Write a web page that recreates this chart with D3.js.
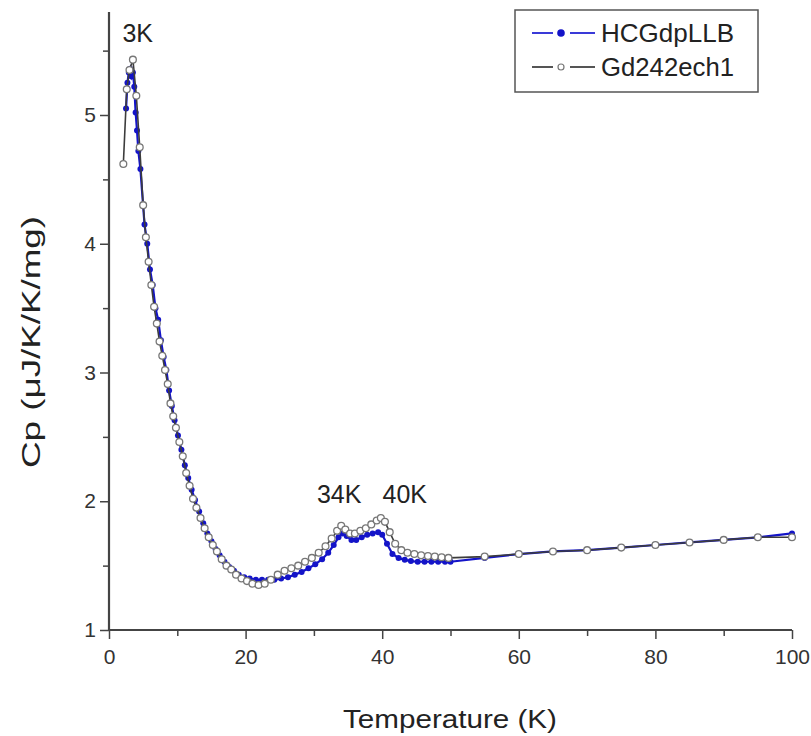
<!DOCTYPE html>
<html><head><meta charset="utf-8">
<script src="https://cdn.jsdelivr.net/npm/d3@7"></script>
<style>
html,body{margin:0;padding:0;background:#fff;}
svg{display:block;font-family:"Liberation Sans",Arial,Helvetica,sans-serif;}
</style></head>
<body>
<svg id="chart" width="811" height="736"></svg>
<script>
// ---- Data ----
const seriesNames = ["HCGdpLLB", "Gd242ech1"];
const hcgT = [2.5,2.7,2.9,3.1,3.3,3.5,3.7,3.9,4.1,4.3,4.6,5.2,5.6,6.0,6.4,6.8,7.2,7.6,8.0,8.4,8.8,9.2,9.6,10.1,10.6,11.1,11.6,12.1,12.6,13.2,13.8,14.4,15.0,15.6,16.2,16.9,17.6,18.3,19.0,19.8,20.6,21.5,22.4,23.3,24.2,25.2,26.2,27.2,28.2,29.2,30.2,31.2,32.1,32.9,33.6,34.2,34.8,35.5,36.2,37.0,37.8,38.6,39.4,40.0,40.7,41.5,42.4,43.3,44.2,45.2,46.2,47.2,48.2,49.2,50.0,55,60,65,70,75,80,85,90,95,100];
const hcgCp = [5.05,5.25,5.33,5.36,5.30,5.33,5.22,5.02,4.88,4.72,4.58,4.15,4.00,3.80,3.68,3.50,3.41,3.25,3.12,3.02,2.86,2.74,2.63,2.51,2.40,2.28,2.18,2.09,2.01,1.92,1.83,1.75,1.69,1.63,1.58,1.53,1.49,1.46,1.43,1.41,1.40,1.39,1.39,1.39,1.39,1.40,1.41,1.43,1.45,1.48,1.51,1.55,1.60,1.66,1.72,1.75,1.73,1.70,1.70,1.72,1.74,1.75,1.76,1.74,1.67,1.59,1.56,1.545,1.535,1.53,1.53,1.53,1.53,1.53,1.53,1.56,1.59,1.61,1.62,1.64,1.66,1.68,1.70,1.72,1.75];
const gdT = [2.1,2.6,3.0,3.5,4.0,4.5,5.0,5.4,5.8,6.2,6.6,7.0,7.4,7.8,8.2,8.6,9.0,9.4,9.8,10.3,10.8,11.3,11.8,12.3,12.8,13.4,14.0,14.6,15.2,15.8,16.5,17.2,17.9,18.6,19.4,20.2,21.0,21.9,22.8,23.7,24.7,25.7,26.7,27.7,28.7,29.7,30.7,31.7,32.6,33.4,34.0,34.6,35.3,36.0,36.8,37.6,38.4,39.2,39.8,40.4,41.1,41.9,42.8,43.7,44.7,45.7,46.7,47.7,48.7,49.7,55,60,65,70,75,80,85,90,95,100];
const gdCp = [4.62,5.20,5.35,5.43,5.15,4.75,4.30,4.05,3.86,3.68,3.51,3.38,3.24,3.13,3.02,2.91,2.76,2.66,2.57,2.46,2.35,2.22,2.12,2.02,1.95,1.87,1.79,1.72,1.66,1.61,1.55,1.50,1.47,1.43,1.40,1.38,1.36,1.35,1.36,1.39,1.43,1.46,1.48,1.50,1.53,1.56,1.60,1.65,1.71,1.77,1.81,1.78,1.75,1.75,1.77,1.79,1.82,1.85,1.87,1.84,1.76,1.67,1.62,1.60,1.59,1.58,1.575,1.57,1.565,1.56,1.57,1.59,1.61,1.62,1.64,1.66,1.68,1.70,1.72,1.72];
const xTickLabels = [0,20,40,60,80,100];
const yTickLabels = [1,2,3,4,5];
const annotations = [{t:"3K", x:4.2, y:5.57},{t:"34K", x:33.7, y:1.99},{t:"40K", x:43.3, y:1.99}];

// ---- Layout ----
const svg = d3.select("#chart");
const x = d3.scaleLinear().domain([0,100]).range([109,792]);
const y = d3.scaleLinear().domain([1,5.8]).range([630,12]);
const axisColor = "#444";
const blue = "#1414c8";
const gray = "#3c3c3c";

// Axes
const xAxis = d3.axisBottom(x).tickValues(d3.range(0,101,10)).tickSize(8)
  .tickFormat(d => xTickLabels.includes(d) ? d : "");
const gx = svg.append("g").attr("transform","translate(0,630)").call(xAxis);
gx.select(".domain").attr("stroke",axisColor).attr("stroke-width",2.2).attr("d","M109,0H792");
gx.selectAll(".tick line").attr("stroke",axisColor).attr("stroke-width",1.5)
  .attr("y2", d => xTickLabels.includes(d) ? 9 : 6);
gx.selectAll(".tick text").attr("font-size",21).attr("fill","#333").attr("dy","1.05em").attr("y",12)
  .attr("font-family","'Liberation Sans',Arial,sans-serif");

const yAxis = d3.axisLeft(y).tickValues(d3.range(1,5.51,0.5)).tickSize(8)
  .tickFormat(d => yTickLabels.includes(d) ? d : "");
const gy = svg.append("g").attr("transform","translate(109,0)").call(yAxis);
gy.select(".domain").attr("stroke",axisColor).attr("stroke-width",2.2).attr("d","M0,"+y(1)+"V"+y(5.8));
gy.selectAll(".tick line").attr("stroke",axisColor).attr("stroke-width",1.5)
  .attr("x2", d => yTickLabels.includes(d) ? -9 : -6);
gy.selectAll(".tick text").attr("font-size",21).attr("fill","#333").attr("x",-13)
  .attr("font-family","'Liberation Sans',Arial,sans-serif");

// Axis titles
svg.append("text").attr("x",450).attr("y",728).attr("text-anchor","middle")
  .attr("font-size",25).attr("fill","#222")
  .attr("textLength",214).attr("lengthAdjust","spacingAndGlyphs").text("Temperature (K)");
svg.append("text").attr("transform","translate(40,342) rotate(-90)").attr("text-anchor","middle")
  .attr("font-size",25).attr("fill","#222")
  .attr("textLength",252).attr("lengthAdjust","spacingAndGlyphs").text("Cp (\u03bcJ/K/K/mg)");

// Series
const hcg = hcgT.map((t,i)=>({t, v:hcgCp[i]}));
const gd = gdT.map((t,i)=>({t, v:gdCp[i]}));
const line = d3.line().x(d=>x(d.t)).y(d=>y(d.v));

svg.append("path").datum(hcg).attr("d",line).attr("fill","none").attr("stroke",blue).attr("stroke-width",2.2);
svg.append("g").selectAll("circle").data(hcg).join("circle")
  .attr("cx",d=>x(d.t)).attr("cy",d=>y(d.v)).attr("r",3).attr("fill",blue);

svg.append("path").datum(gd).attr("d",line).attr("fill","none").attr("stroke",gray).attr("stroke-width",1.6);
svg.append("g").selectAll("circle").data(gd).join("circle")
  .attr("cx",d=>x(d.t)).attr("cy",d=>y(d.v)).attr("r",3.4).attr("fill","#fff")
  .attr("stroke","#777").attr("stroke-width",1.3);

// Annotations
svg.append("g").selectAll("text").data(annotations).join("text")
  .attr("x",d=>x(d.x)).attr("y",d=>y(d.y)).attr("text-anchor","middle")
  .attr("font-size",25).attr("fill","#222").text(d=>d.t);

// Legend
const lg = svg.append("g");
lg.append("rect").attr("x",515).attr("y",10).attr("width",243).attr("height",82)
  .attr("fill","#fff").attr("stroke","#555").attr("stroke-width",1.5);
const rows = [{name:seriesNames[0], y:33, color:blue, filled:true},{name:seriesNames[1], y:67, color:gray, filled:false}];
rows.forEach(r=>{
  lg.append("line").attr("x1",532).attr("x2",553).attr("y1",r.y).attr("y2",r.y).attr("stroke",r.filled?"#3a3ad8":"#555").attr("stroke-width",2);
  lg.append("line").attr("x1",570).attr("x2",595).attr("y1",r.y).attr("y2",r.y).attr("stroke",r.filled?"#3a3ad8":"#555").attr("stroke-width",2);
  if(r.filled) lg.append("circle").attr("cx",561).attr("cy",r.y).attr("r",3.8).attr("fill",blue);
  else lg.append("circle").attr("cx",561).attr("cy",r.y).attr("r",3).attr("fill","#fff").attr("stroke","#777").attr("stroke-width",1.2);
  lg.append("text").attr("x",601).attr("y",r.y+9).attr("font-size",25).attr("fill","#222")
    .attr("textLength",133).attr("lengthAdjust","spacingAndGlyphs").text(r.name);
});
</script>
</body></html>
